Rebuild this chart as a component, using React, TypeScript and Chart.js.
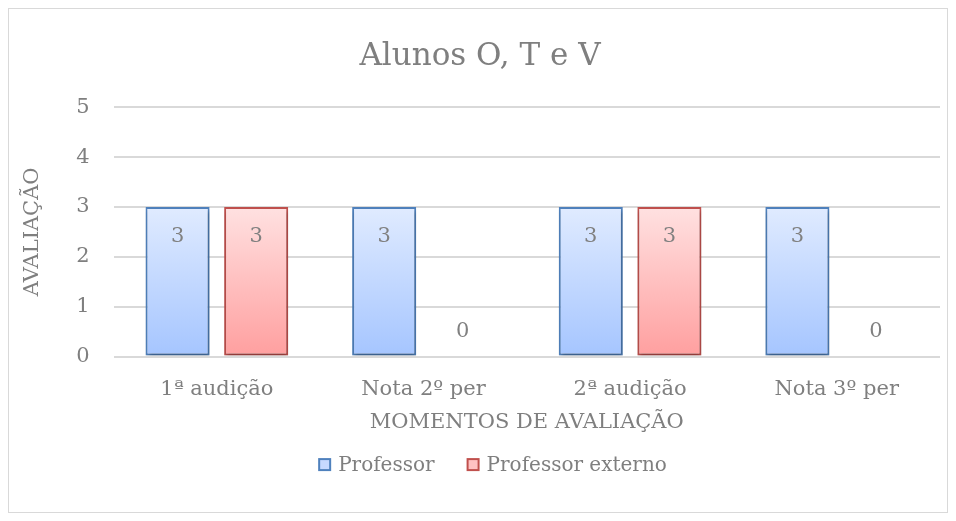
import React, { useEffect, useRef } from "react";
import { Chart, registerables } from "chart.js";

Chart.register(...registerables);

const categories = ["1ª audição", "Nota 2º per", "2ª audição", "Nota 3º per"];
const professor = [3, 3, 3, 3];
const professorExterno = [3, 0, 3, 0];
const seriesNames = ["Professor", "Professor externo"];

const FONT = "'DejaVu Serif', serif";
const TEXT = "#7f7f7f";
const FS = 21;

const blue = { top: "#e0ebff", bottom: "#a5c5ff", border: "#4f81bd", legend: "#c6d9ff" };
const red = { top: "#ffe1e1", bottom: "#ff9f9f", border: "#c0504d", legend: "#ffc2c2" };

function makeGradient(chart: any, c: { top: string; bottom: string }) {
  const { ctx, chartArea, scales } = chart;
  if (!chartArea || !scales.y) return c.bottom;
  const y0 = scales.y.getPixelForValue(0);
  const y3 = scales.y.getPixelForValue(3);
  const g = ctx.createLinearGradient(0, y3, 0, y0);
  g.addColorStop(0, c.top);
  g.addColorStop(1, c.bottom);
  return g;
}

const shadowPlugin = {
  id: "barShadow",
  beforeDatasetsDraw(chart: any) {
    const ctx = chart.ctx;
    ctx.save();
    ctx.shadowColor = "rgba(0,0,0,0.28)";
    ctx.shadowBlur = 4;
    ctx.shadowOffsetX = 1;
    ctx.shadowOffsetY = 3;
  },
  afterDatasetsDraw(chart: any) {
    chart.ctx.restore();
  },
};

const labelPlugin = {
  id: "valueLabels",
  afterDatasetsDraw(chart: any) {
    const ctx = chart.ctx;
    ctx.save();
    ctx.font = `${FS}px ${FONT}`;
    ctx.fillStyle = "#808080";
    ctx.textAlign = "center";
    ctx.textBaseline = "middle";
    chart.data.datasets.forEach((ds: any, i: number) => {
      const meta = chart.getDatasetMeta(i);
      meta.data.forEach((bar: any, j: number) => {
        const v = ds.data[j];
        const y = v > 0 ? bar.y + 30 : bar.y - 25;
        ctx.fillText(String(v), bar.x, y);
      });
    });
    ctx.restore();
  },
};

const legendPlugin = {
  id: "customLegend",
  afterDraw(chart: any) {
    const ctx = chart.ctx;
    const cols = [blue, red];
    ctx.save();
    ctx.font = `20px ${FONT}`;
    ctx.textBaseline = "middle";
    ctx.textAlign = "left";
    const box = 11;
    const gapText = 8;
    const gapItem = 33;
    const widths = seriesNames.map((n) => box + gapText + ctx.measureText(n).width);
    const total = widths.reduce((a, b) => a + b, 0) + gapItem * (seriesNames.length - 1);
    let x = chart.width / 2 + 15 - total / 2;
    const y = chart.chartArea.bottom + 108;
    seriesNames.forEach((n, i) => {
      ctx.fillStyle = cols[i].legend;
      ctx.fillRect(x, y - box / 2, box, box);
      ctx.strokeStyle = cols[i].border;
      ctx.lineWidth = 2;
      ctx.strokeRect(x, y - box / 2, box, box);
      ctx.fillStyle = TEXT;
      ctx.fillText(n, x + box + gapText, y + 1);
      x += widths[i] + gapItem;
    });
    ctx.restore();
  },
};

export default function App() {
  const ref = useRef<HTMLCanvasElement>(null);
  useEffect(() => {
    if (!ref.current) return;
    const chart = new Chart(ref.current, {
      type: "bar",
      data: {
        labels: categories,
        datasets: [
          {
            label: seriesNames[0],
            data: professor,
            backgroundColor: (c: any) => makeGradient(c.chart, blue),
            borderColor: blue.border,
            borderWidth: 2,
            borderSkipped: false,
            categoryPercentage: 0.761,
            barPercentage: 0.815,
          },
          {
            label: seriesNames[1],
            data: professorExterno,
            backgroundColor: (c: any) => makeGradient(c.chart, red),
            borderColor: red.border,
            borderWidth: 2,
            borderSkipped: false,
            categoryPercentage: 0.761,
            barPercentage: 0.815,
          },
        ],
      },
      options: {
        animation: false,
        responsive: true,
        maintainAspectRatio: false,
        layout: { padding: { left: 11, right: 7, top: 21, bottom: 77 } },
        plugins: {
          tooltip: { enabled: false },
          legend: { display: false },
          title: {
            display: true,
            text: "Alunos O, T e V",
            color: TEXT,
            font: { family: FONT, size: 31, weight: "normal" },
            padding: { top: 8, bottom: 32 },
          },
        },
        scales: {
          x: {
            grid: { display: false },
            border: { display: false },
            ticks: { color: TEXT, font: { family: FONT, size: FS }, padding: 12 },
            title: {
              display: true,
              text: "MOMENTOS DE AVALIAÇÃO",
              color: TEXT,
              font: { family: FONT, size: FS },
              padding: { top: -4, bottom: 0 },
            },
          },
          y: {
            min: 0,
            max: 5,
            ticks: { stepSize: 1, color: TEXT, font: { family: FONT, size: FS }, padding: 24 },
            grid: { color: "#d9d9d9", lineWidth: 2, drawTicks: false },
            border: { display: false },
            title: {
              display: true,
              text: "AVALIAÇÃO",
              color: TEXT,
              font: { family: FONT, size: FS },
              padding: { top: 0, bottom: 7 },
            },
          },
        },
      },
      plugins: [shadowPlugin, labelPlugin, legendPlugin],
    });
    return () => chart.destroy();
  }, []);
  return (
    <div style={{ width: 940, height: 505, border: "1px solid #d9d9d9", boxSizing: "border-box", background: "#fff" }}>
      <div style={{ width: 938, height: 503, position: "relative" }}>
        <canvas ref={ref} />
      </div>
    </div>
  );
}
